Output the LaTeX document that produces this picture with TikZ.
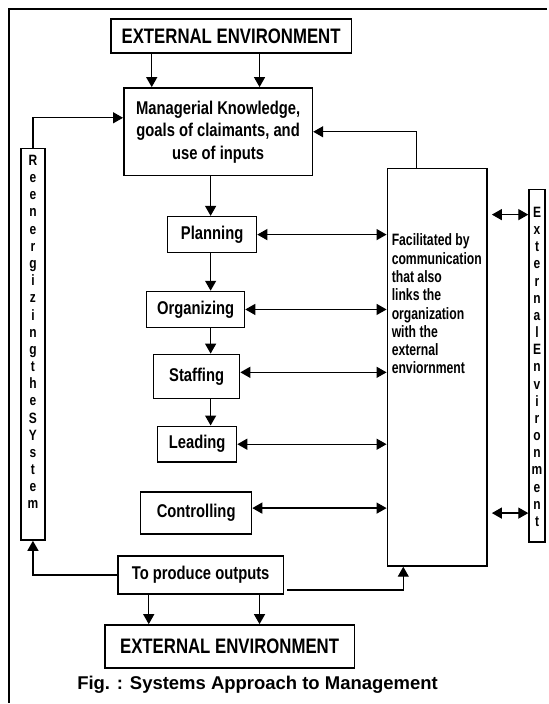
\documentclass[tikz,border=0pt]{standalone}
\usepackage{fontspec}
\setmainfont{Liberation Sans}
\newfontfamily\narrowfont{Liberation Sans}[FakeStretch=0.8]
\newfontfamily\narrowerfont{Liberation Sans}[FakeStretch=0.74]
\usetikzlibrary{arrows.meta,positioning}

\begin{document}
\begin{tikzpicture}[x=1pt,y=-1pt,>={Triangle[length=10pt,width=11pt]},line join=miter]
\path[fill=white] (0,0) rectangle (548,704);
\tikzset{box/.style={draw,line width=1.5pt,inner sep=0pt,align=center,font=\narrowfont\bfseries\fontsize{18.5}{22.5}\selectfont},envbox/.style={box,font=\narrowfont\bfseries\fontsize{21}{24}\selectfont},wire/.style={draw,line width=1.3pt},vtext/.style={inner sep=0pt,align=center,font=\narrowfont\bfseries\fontsize{15}{17.2}\selectfont}}
\draw[line width=2.5pt] (548,9) -- (9,9) -- (9,704);
\node[envbox,minimum width=241pt,minimum height=34pt] (topenv) at (231.5,36) {EXTERNAL ENVIRONMENT};
\node[box,minimum width=189pt,minimum height=88pt] (know) at (218.5,132) {Managerial Knowledge,\\goals of claimants, and\\use of inputs};
\node[box,minimum width=89pt,minimum height=36pt] (plan) at (212.5,235) {Planning};
\node[box,minimum width=98pt,minimum height=36pt] (org) at (196,310) {Organizing};
\node[box,minimum width=86pt,minimum height=44pt] (staff) at (197,377) {Staffing};
\node[box,minimum width=79pt,minimum height=36pt] (lead) at (197.5,445) {Leading};
\node[box,minimum width=111pt,minimum height=42pt] (ctrl) at (196.5,514) {Controlling};
\node[box,minimum width=166pt,minimum height=38pt] (outp) at (201,576) {To produce outputs};
\node[envbox,minimum width=250pt,minimum height=43pt] (botenv) at (230,647.5) {EXTERNAL ENVIRONMENT};
\node[box,minimum width=100pt,minimum height=398pt] (comm) at (438,368) {};
\node[anchor=north west,inner sep=0pt,align=left,font=\narrowerfont\bfseries\fontsize{16.5}{18.3}\selectfont] (commtxt) at ([xshift=5pt,yshift=-66pt]comm.north west) {Facilitated by\\communication\\that also\\links the\\organization\\with the\\external\\enviornment};
\node[box,minimum width=24pt,minimum height=392pt] (reen) at (33,345) {};
\node[vtext,below=7pt of reen.north] (reentxt) {R\\e\\e\\n\\e\\r\\g\\i\\z\\i\\n\\g\\t\\h\\e\\S\\Y\\s\\t\\e\\m};
\node[box,minimum width=16pt,minimum height=353pt] (extenv) at (538,366.5) {};
\node[vtext,below=18pt of extenv.north] (extenvtxt) {E\\x\\t\\e\\r\\n\\a\\l\\E\\n\\v\\i\\r\\o\\n\\m\\e\\n\\t};
\node[font=\bfseries\fontsize{18.5}{22}\selectfont] (caption) at (258,686) {Fig. : Systems Approach to Management};
\draw[wire,->] (152,0 |- topenv.south) -- (152,0 |- know.north);
\draw[wire,->] (260,0 |- topenv.south) -- (260,0 |- know.north);
\draw[wire,->] (211,0 |- know.south) -- (211,0 |- plan.north);
\draw[wire,->] (211,0 |- plan.south) -- (211,0 |- org.north);
\draw[wire,->] (211,0 |- org.south) -- (211,0 |- staff.north);
\draw[wire,->] (211,0 |- staff.south) -- (211,0 |- lead.north);
\draw[wire,<->] (plan.east) -- (plan.east -| comm.west);
\draw[wire,<->] (org.east) -- (org.east -| comm.west);
\draw[wire,<->] ([yshift=4pt]staff.east) -- ([yshift=4pt]staff.east -| comm.west);
\draw[wire,<->] (lead.east) -- (lead.east -| comm.west);
\draw[wire,<->] ([yshift=5pt]ctrl.east) -- ([yshift=5pt]ctrl.east -| comm.west);
\draw[wire,->] (417,0 |- comm.north) |- (know.east);
\draw[wire,->] (reen.north) |- ([yshift=14pt]know.west);
\draw[wire,->] (outp.west) -| (reen.south);
\draw[wire,->] ([xshift=3pt,yshift=-15pt]outp.east) -| ([xshift=-34pt]comm.south);
\draw[wire,->] (149,0 |- outp.south) -- (149,0 |- botenv.north);
\draw[wire,->] (260,0 |- outp.south) -- (260,0 |- botenv.north);
\draw[wire,<->,shorten <=4pt] (comm.east |- 0,215) -- (extenv.west |- 0,215);
\draw[wire,<->,shorten <=4pt] (comm.east |- 0,514) -- (extenv.west |- 0,514);
\end{tikzpicture}
\end{document}
